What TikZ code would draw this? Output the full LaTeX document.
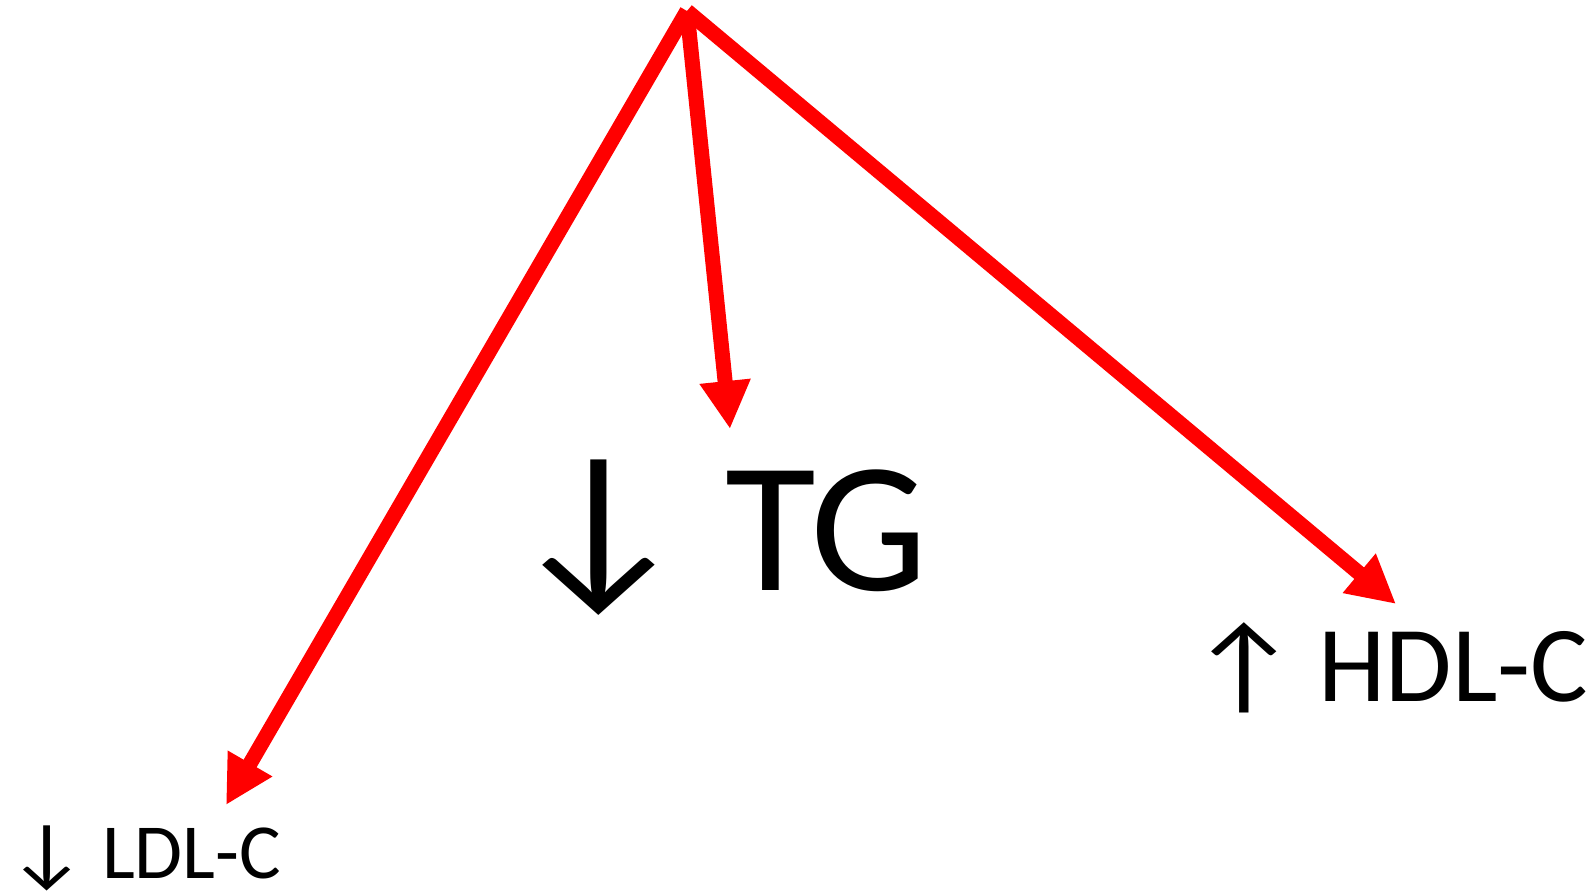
\documentclass[tikz,border=0pt]{standalone}
\usepackage{fontspec}
\setmainfont{Carlito}
\usetikzlibrary{arrows.meta}

\tikzset{
	redArrow/.style={draw=red, line width=7.5pt, -{Triangle[length=24pt, width=24pt]}},
	lipidText/.style={anchor=base west, inner sep=0pt, text=black}
}

\begin{document}
\begin{tikzpicture}[x=0.5pt, y=-0.5pt]
	
	\useasboundingbox (0,0) rectangle (1596,894);
	
	%Common origin
	\coordinate (origin) at (687,11);
	
	%Tips of the arrows
	\coordinate (ldlTip) at (226,805);
	\coordinate (tgTip) at (730,429);
	\coordinate (hdlTip) at (1396,604);
	
	%Triglycerides
	\node (tgLabel) at (504,590) [lipidText, font=\fontsize{93pt}{100pt}\selectfont]
	{\raisebox{2.5pt}{\scalebox{1.12}[1]{↓}}\hspace{-5pt} TG};
	
	%HDL cholesterol
	\node (hdlLabel) at (1189,701) [lipidText, font=\fontsize{54pt}{60pt}\selectfont]
	{\scalebox{1.12}[1]{↑}\hspace{-2.5pt} HDL-C};
	
	%LDL cholesterol
	\node (ldlLabel) at (7,878) [lipidText, font=\fontsize{39pt}{44pt}\selectfont]
	{\scalebox{1.12}[1]{↓}\hspace{-1pt} LDL-C};
	
	%Links
	\draw[redArrow] (origin) -- (ldlTip);
	\draw[redArrow] (origin) -- (tgTip);
	\draw[redArrow] (origin) -- (hdlTip);
	
\end{tikzpicture}
\end{document}
